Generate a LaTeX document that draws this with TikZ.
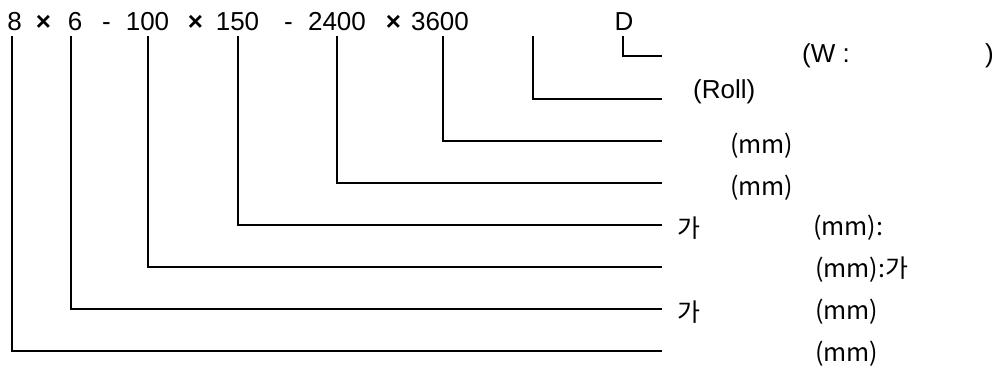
\documentclass[tikz,border=0pt]{standalone}
\usepackage{fontspec}
\setmainfont{Liberation Sans}
\newfontfamily\krfont{Noto Sans CJK KR}
\usepackage{tikz}
\usetikzlibrary{positioning}
\tikzset{
  code/.style  = {inner sep=0pt, anchor=base, font=\fontsize{26}{31}\selectfont},
  times/.style = {code, font=\fontsize{26}{31}\selectfont\bfseries},
  txt/.style   = {inner sep=0pt, anchor=west, font=\fontsize{26}{31}\selectfont},
  kr/.style    = {inner sep=0pt, anchor=west, font=\fontsize{25}{30}\selectfont\krfont},
  lead/.style  = {draw=black, line width=1.3pt, shorten <=6pt},
}

\begin{document}
\begin{tikzpicture}[x=1pt, y=-1pt]
  \useasboundingbox (0,0) rectangle (999,380);

  % code line
  \node[code]  (n8)    at (14.5,30)  {8};
  \node[times] (x1)    at (43.5,30)  {×};
  \node[code]  (n6)    at (75,30)    {6};
  \node[code]  (d1)    at (106.5,30) {-};
  \node[code]  (n100)  at (147.5,30) {100};
  \node[times] (x2)    at (195.5,30) {×};
  \node[code]  (n150)  at (237.5,30) {150};
  \node[code]  (d2)    at (288.5,30) {-};
  \node[code]  (n2400) at (337,30)   {2400};
  \node[times] (x3)    at (393.5,30) {×};
  \node[code]  (n3600) at (440,30)   {3600};
  \node[code]  (nD)    at (624,30)   {D};
  \coordinate (cR) at (533,30);

  % line ends
  \coordinate (rD)    at (662,56);
  \coordinate (rR)    at (662,99);
  \coordinate (r3600) at (662,141);
  \coordinate (r2400) at (662,183);
  \coordinate (r150)  at (662,225);
  \coordinate (r100)  at (662,267);
  \coordinate (r6)    at (662,309);
  \coordinate (r8)    at (662,351);

  % leaders
  \draw[lead] ([xshift=-1pt]nD.south)    |- (rD);
  \draw[lead] (cR)                       |- (rR);
  \draw[lead] ([xshift=3pt]n3600.south)  |- (r3600);
  \draw[lead] (n2400.south)              |- (r2400);
  \draw[lead] ([xshift=0.5pt]n150.south) |- (r150);
  \draw[lead] ([xshift=0.5pt]n100.south) |- (r100);
  \draw[lead] ([xshift=-4pt]n6.south)    |- (r6);
  \draw[lead] ([xshift=-2.5pt]n8.south)  |- (r8);

  % labels
  \node[txt] (lW)    at (802,56)  {(W :};
  \node[txt] (lWc)   at (985,56)  {)};
  \node[txt] (lR)    at (693,92)  {(Roll)};
  \node[kr]  (l3600) at (730,146) {(mm)};
  \node[kr]  (l2400) at (730,188) {(mm)};
  \node[kr]  (k150)  at (677,228) {가};
  \node[kr]  (l150)  at (813,228) {(mm):};
  \node[kr]  (l100)  at (815,270) {(mm):가};
  \node[kr]  (k6)    at (677,312) {가};
  \node[kr]  (l6)    at (815,312) {(mm)};
  \node[kr]  (l8)    at (815,354) {(mm)};
\end{tikzpicture}
\end{document}
